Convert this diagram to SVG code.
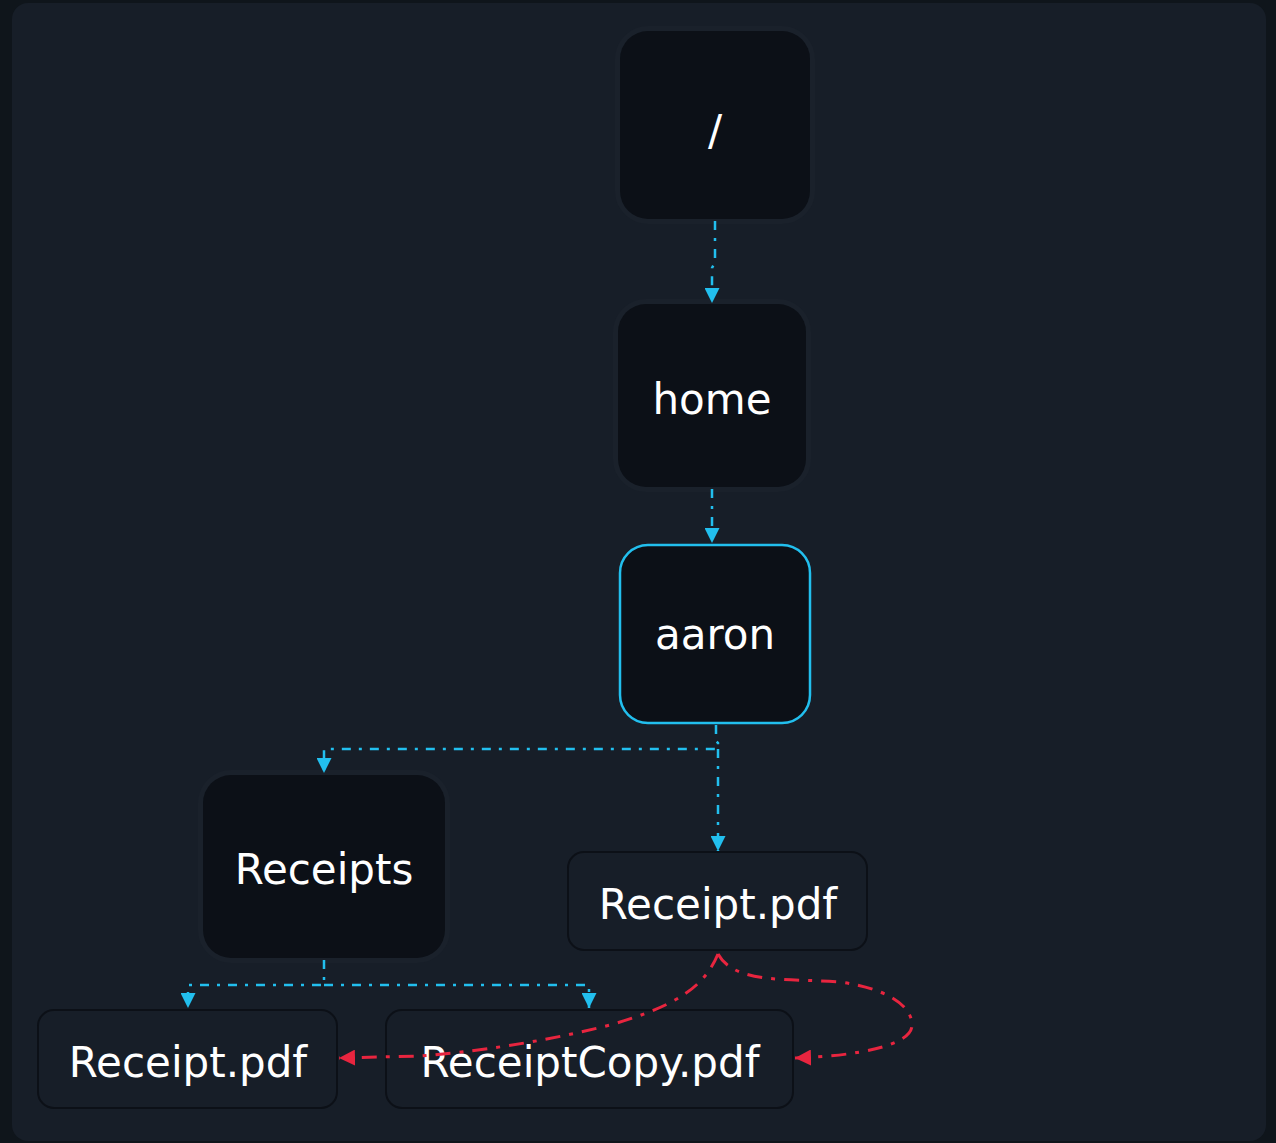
<svg xmlns="http://www.w3.org/2000/svg" width="1276" height="1143" viewBox="0 0 1276 1143">
<style>
.big{fill:#0c1017;}
.file{fill:#171e28;stroke:#0c1017;stroke-width:2;}
.sel{fill:#0c1017;stroke:#22bfee;stroke-width:2.5;}
.halo{fill:none;stroke:#1a212b;stroke-width:10;}
.lbl{font-family:"DejaVu Sans","Liberation Sans",sans-serif;font-size:42px;fill:#ffffff;text-anchor:middle;}
.cy{fill:none;stroke:#22bfee;stroke-width:2.5;stroke-dasharray:9 8 3 8;marker-end:url(#ac);}
.rd{fill:none;stroke:#e8253f;stroke-width:3;stroke-dasharray:15 9 4 9;marker-end:url(#ar);}
</style>
<defs>
<marker id="ac" viewBox="0 0 10 10" refX="10" refY="5" markerWidth="15" markerHeight="15" markerUnits="userSpaceOnUse" orient="auto">
<path d="M0,0 L10,5 L0,10 Z" fill="#22bfee"/>
</marker>
<marker id="ar" viewBox="0 0 10 10" refX="10" refY="5" markerWidth="16" markerHeight="16" markerUnits="userSpaceOnUse" orient="auto">
<path d="M0,0 L10,5 L0,10 Z" fill="#e8253f"/>
</marker>
</defs>
<rect x="0" y="0" width="1276" height="1143" fill="#0f151b"/>
<rect x="12" y="3" width="1254" height="1138" rx="16" fill="#171e28"/>

<g id="node-root">
<rect class="halo" x="620" y="31" width="190" height="188" rx="28"/>
<rect class="big" x="620" y="31" width="190" height="188" rx="28"/>
<text class="lbl" x="715" y="145">/</text>
</g>
<g id="node-home">
<rect class="halo" x="618" y="304" width="188" height="183" rx="28"/>
<rect class="big" x="618" y="304" width="188" height="183" rx="28"/>
<text class="lbl" x="712" y="414">home</text>
</g>
<g id="node-aaron">
<rect class="sel" x="620" y="545" width="190" height="178" rx="28"/>
<text class="lbl" x="715" y="649">aaron</text>
</g>
<g id="node-receipts">
<rect class="halo" x="203" y="775" width="242" height="183" rx="28"/>
<rect class="big" x="203" y="775" width="242" height="183" rx="28"/>
<text class="lbl" x="324" y="884">Receipts</text>
</g>
<g id="node-receipt-pdf-aaron">
<rect class="file" x="568" y="852" width="299" height="98" rx="16"/>
<text class="lbl" x="718" y="919">Receipt.pdf</text>
</g>
<g id="node-receipt-pdf">
<rect class="file" x="38" y="1010" width="299" height="98" rx="16"/>
<text class="lbl" x="188" y="1077">Receipt.pdf</text>
</g>
<g id="node-receiptcopy-pdf">
<rect class="file" x="386" y="1010" width="407" height="98" rx="16"/>
<text class="lbl" x="590" y="1077">ReceiptCopy.pdf</text>
</g>

<g id="connectors">
<path class="cy" d="M715,221 L715,262 L712,268 L712,303"/>
<path class="cy" d="M712,489 L712,543"/>
<path class="cy" d="M716,725 L716,741 L718,743 L718,749 L324,749 L324,773"/>
<path class="cy" d="M718,749 L718,851"/>
<path class="cy" d="M324,960 L324,985 L188,985 L188,1008"/>
<path class="cy" d="M324,985 L589,985 L589,1008"/>
<path class="rd" d="M718,954 C705,985 680,1005 610,1025 C540,1043 470,1052 420,1056 L339,1058"/>
<path class="rd" d="M718,954 C735,985 790,978 840,982 C885,988 912,1005 912,1025 C912,1045 860,1056 795,1058"/>
</g>
</svg>
